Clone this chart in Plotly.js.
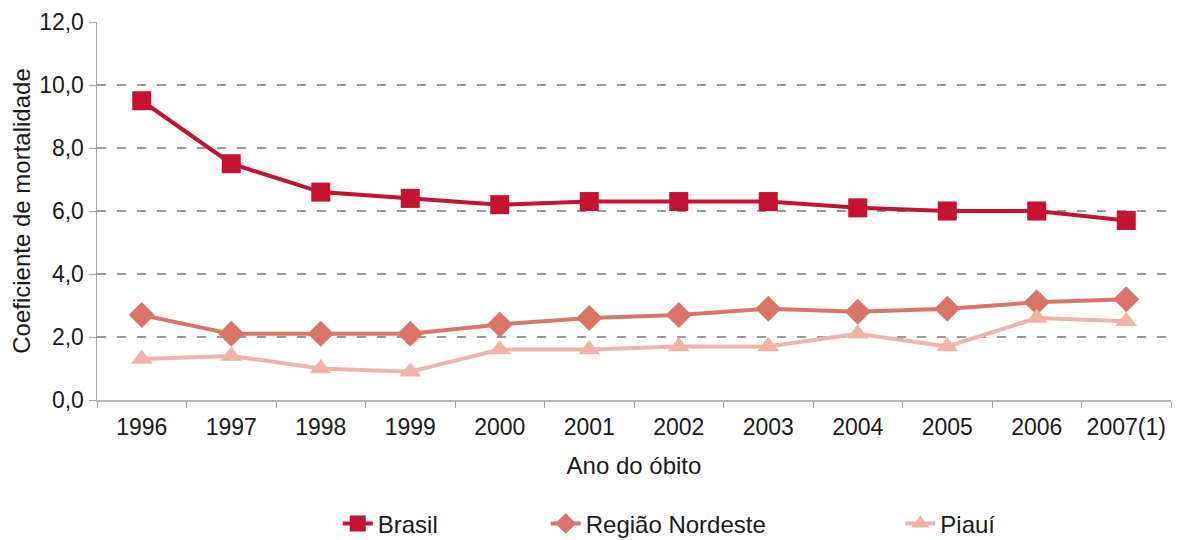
<!DOCTYPE html>
<html>
<head>
<meta charset="utf-8">
<script src="https://cdn.plot.ly/plotly-3.0.1.min.js"></script>
<style>html,body{margin:0;padding:0;background:#fff;}#chart{width:1202px;height:540px;}</style>
</head>
<body>
<div id="chart"></div>
<script>
const years = ["1996","1997","1998","1999","2000","2001","2002","2003","2004","2005","2006","2007(1)"];
const brasil = [9.5, 7.5, 6.6, 6.4, 6.2, 6.3, 6.3, 6.3, 6.1, 6.0, 6.0, 5.7];
const nordeste = [2.7, 2.1, 2.1, 2.1, 2.4, 2.6, 2.7, 2.9, 2.8, 2.9, 3.1, 3.2];
const piaui = [1.3, 1.4, 1.0, 0.9, 1.6, 1.6, 1.7, 1.7, 2.1, 1.7, 2.6, 2.5];
const yTicks = [0, 2, 4, 6, 8, 10, 12];

const font = "Liberation Sans, Arial, sans-serif";
const traces = [
  {x: years, y: brasil, name: "Brasil", type: "scatter", mode: "lines+markers", legend: "legend",
   line: {color: "#c41230", width: 4}, marker: {symbol: "square", size: 19, color: "#c41230"}},
  {x: years, y: nordeste, name: "Região Nordeste", type: "scatter", mode: "lines+markers", legend: "legend2",
   line: {color: "#db7468", width: 4}, marker: {symbol: "diamond", size: 20, color: "#db7468"}},
  {x: years, y: piaui, name: "Piauí", type: "scatter", mode: "lines+markers", legend: "legend3",
   line: {color: "#edb4a7", width: 4}, marker: {symbol: "triangle-up", size: 19, color: "#edb4a7"}}
];
function leg(x) {
  return {orientation: "h", xref: "container", yref: "container", x: x, xanchor: "left",
          y: 0.03, yanchor: "middle", font: {size: 24, family: font}, itemwidth: 30, bgcolor: "rgba(0,0,0,0)"};
}
const layout = {
  width: 1202, height: 540,
  margin: {l: 97, r: 31, t: 22, b: 140},
  paper_bgcolor: "#fff", plot_bgcolor: "#fff",
  separators: ",.",
  font: {family: font, size: 23, color: "#1a1a1a"},
  showlegend: true,
  legend: leg(0.281),
  legend2: leg(0.454),
  legend3: leg(0.749),
  xaxis: {type: "category", range: [-0.5, 11.5], tickson: "boundaries", ticks: "outside", ticklen: 6, tickcolor: "#a0a0a8",
          showline: true, linecolor: "#b5b5bb", linewidth: 1.5, showgrid: false, zeroline: false,
          tickfont: {size: 23}, ticklabelstandoff: 6, fixedrange: true,
          title: {text: "Ano do óbito", font: {size: 24}, standoff: 18}},
  yaxis: {range: [0, 12], tickvals: yTicks, tickformat: ".1f", ticks: "outside", ticklen: 7, tickcolor: "#a0a0a8",
          showline: true, linecolor: "#a0a0a8", linewidth: 1.5, zeroline: false,
          showgrid: true, gridcolor: "#9a9a9a", griddash: "9px,11px", gridwidth: 1.5,
          tickfont: {size: 23},
          title: {text: "Coeficiente de mortalidade", font: {size: 24}, standoff: 1}}
};
Plotly.newPlot("chart", traces, layout, {displayModeBar: false, staticPlot: true});
</script>
</body>
</html>
